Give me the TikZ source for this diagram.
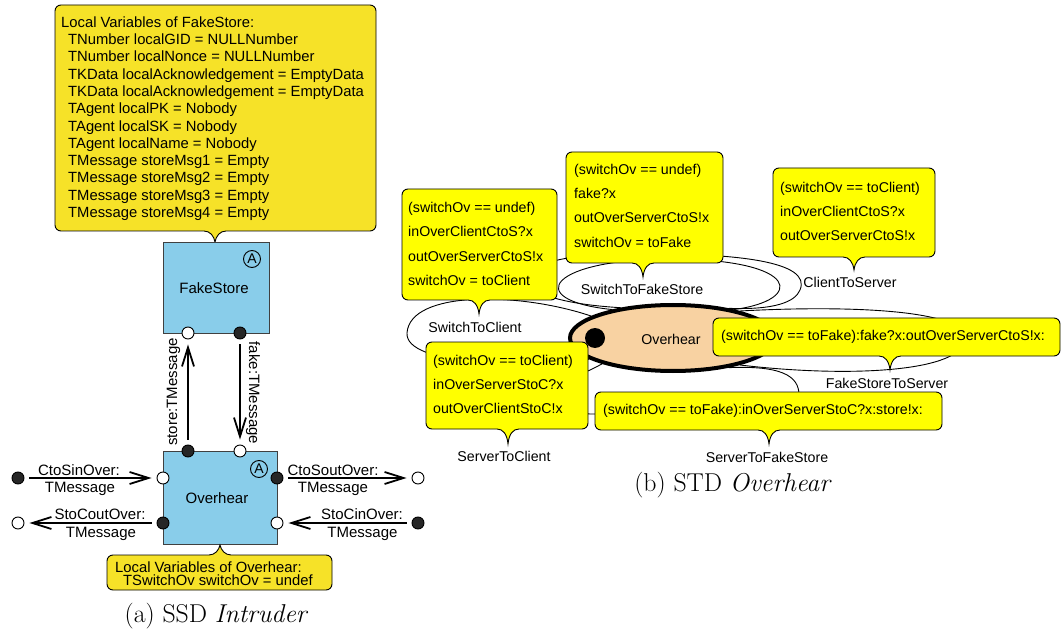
\documentclass[tikz,border=0pt]{standalone}
\usepackage{fontspec}
\newfontfamily\sans{Liberation Sans}
\usetikzlibrary{arrows.meta,shapes.geometric,backgrounds}
\definecolor{vyel}{RGB}{246,226,40}
\definecolor{syel}{RGB}{255,255,0}
\definecolor{blu}{RGB}{137,205,234}
\definecolor{peach}{RGB}{248,210,162}
% x1,y1,x2,y2,px,tipy,colour
\newcommand{\calldown}[7]{%
  \path[callframe, fill=#7] (#1,{(#2+#4)/2}) [rounded corners=6pt] -- (#1,#2) -- (#3,#2) -- (#3,#4) [sharp corners] -- ({#5+11},#4)
    .. controls ({#5+5},#4) and ({#5+1},{#4+5}) .. (#5,#6)
    .. controls ({#5-1},{#4+5}) and ({#5-5},#4) .. ({#5-11},#4) [rounded corners=6pt] -- (#1,#4) -- cycle;}
\newcommand{\callup}[7]{%
  \path[callframe, fill=#7] (#1,{(#2+#4)/2}) [rounded corners=6pt] -- (#1,#2) [sharp corners] -- ({#5-11},#2)
    .. controls ({#5-5},#2) and ({#5-1},{#2-5}) .. (#5,#6)
    .. controls ({#5+1},{#2-5}) and ({#5+5},#2) .. ({#5+11},#2) [rounded corners=6pt] -- (#3,#2) -- (#3,#4) -- (#1,#4) -- cycle;}
\begin{document}
\begin{tikzpicture}[x=1pt,y=-1pt,
  callframe/.style={draw=black, line width=0.9pt},
  vtxt/.style={font=\sans\fontsize{14.8}{17}\selectfont, inner sep=0pt, anchor=base west},
  stxt/.style={font=\sans\fontsize{14.2}{17}\selectfont, inner sep=0pt, anchor=base west},
  lbl/.style={font=\sans\fontsize{15}{17}\selectfont, inner sep=0pt, text depth=0pt},
  slbl/.style={font=\sans\fontsize{14.2}{17}\selectfont, inner sep=0pt, text depth=0pt},
  blk/.style={draw=black!75, line width=0.9pt, fill=blu, inner sep=0pt},
  wp/.style={circle, draw=black, line width=0.9pt, fill=white, minimum size=12pt, inner sep=0pt},
  bp/.style={circle, draw=black, line width=0.9pt, fill=black!85, minimum size=12pt, inner sep=0pt},
  circA/.style={circle, draw=black, line width=0.9pt, minimum size=17pt, inner sep=0pt, text depth=0pt, font=\sans\fontsize{14}{14}\selectfont},
  arr/.style={line width=1.8pt, -{Straight Barb[length=19pt,width=12pt]}, shorten <=5pt, shorten >=5pt},
  selfloop/.style={draw=black, line width=0.9pt},
  stnode/.style={draw=black, ellipse, line width=4pt, fill=peach, minimum width=206pt, minimum height=66pt, inner sep=0pt},
  captxt/.style={font=\fontsize{25.8}{30}\selectfont, inner sep=0pt, anchor=base}]
\useasboundingbox (0,0) rectangle (1061,631);

% ---------------- (a) SSD Intruder ----------------
\calldown{55}{5}{376}{231}{215}{242}{vyel}
\node[vtxt] (fv0) at (61,27.3) {Local Variables of FakeStore:};
\foreach \t [count=\i] in {{TNumber localGID = NULLNumber},{TNumber localNonce = NULLNumber},{TKData localAcknowledgement = EmptyData},{TKData localAcknowledgement = EmptyData},{TAgent localPK = Nobody},{TAgent localSK = Nobody},{TAgent localName = Nobody},{TMessage storeMsg1 = Empty},{TMessage storeMsg2 = Empty},{TMessage storeMsg3 = Empty},{TMessage storeMsg4 = Empty}}
  \node[vtxt] (fv\i) at (68,{27.3+17.3*\i}) {\t};

\node[blk, minimum width=106pt, minimum height=91pt] (fs) at (216,287.5) {};
\node[lbl] (fst) at (214,288) {FakeStore};
\node[circA] (fsA) at (252,259) {A};

\node[blk, minimum width=114pt, minimum height=93pt] (ov) at (220,497.5) {};
\node[lbl] (ovt) at (217,498) {Overhear};
\node[circA] (ovA) at (259,469) {A};

\node[wp] (fsS) at (188,333) {};
\node[bp] (fsF) at (240,333) {};
\node[bp] (ovS) at (188,451) {};
\node[wp] (ovF) at (240,451) {};
\node[wp] (ovL1) at (163,478) {};
\node[bp] (ovL2) at (163,523) {};
\node[bp] (ovR1) at (277,478) {};
\node[wp] (ovR2) at (277,523) {};
\node[bp] (eL1) at (18,478) {};
\node[wp] (eL2) at (18,523) {};
\node[wp] (eR1) at (418,478) {};
\node[bp] (eR2) at (418,523) {};

\draw[arr] (ovS) -- (fsS);
\draw[arr] (fsF) -- (ovF);
\draw[arr] (eL1) -- (ovL1);
\draw[arr] (ovL2) -- (eL2);
\draw[arr] (ovR1) -- (eR1);
\draw[arr] (eR2) -- (ovR2);

\node[lbl, rotate=90] (lst) at (172,392) {store:TMessage};
\node[lbl, rotate=-90] (lfk) at (254.5,393) {fake:TMessage};
\node[lbl] (la1) at (79,470) {CtoSinOver:};
\node[lbl] (la2) at (80,487) {TMessage};
\node[lbl] (lb1) at (100,514) {StoCoutOver:};
\node[lbl] (lb2) at (101,532) {TMessage};
\node[lbl] (lc1) at (333,470) {CtoSoutOver:};
\node[lbl] (lc2) at (333,487) {TMessage};
\node[lbl] (ld1) at (362,514) {StoCinOver:};
\node[lbl] (ld2) at (362.5,532) {TMessage};

\callup{107}{555}{332}{590}{220}{545}{vyel}
\node[vtxt] (ovv1) at (115,572) {Local Variables of Overhear:};
\node[vtxt] (ovv2) at (123,585) {TSwitchOv switchOv = undef};

\node[captxt] (capa) at (216.5,622) {(a) SSD \textit{Intruder}};

% ---------------- (b) STD Overhear ----------------
\node[stnode] (st) at (673,338) {};
\node[slbl] (stt) at (671,339) {Overhear};
\node[circle, fill=black, minimum size=20pt, inner sep=0pt] (init) at (595,338) {};

\begin{scope}[on background layer]
\draw[selfloop] (st.165) .. controls (520,292) and (410,290) .. (407,333) .. controls (405,365) and (520,368) .. (st.192);
\draw[selfloop] (st.155) .. controls (520,300) and (550,258) .. (675,259) .. controls (800,260) and (805,300) .. (st.25);
\draw[selfloop] (st.150) .. controls (490,300) and (500,255) .. (620,254) .. controls (740,252) and (812,262) .. (800,290) .. controls (795,302) and (775,310) .. (st.28);
\draw[selfloop] (st.22) .. controls (850,305) and (965,310) .. (965,338) .. controls (965,372) and (850,378) .. (st.-22);
\draw[selfloop] (st.-28) .. controls (790,365) and (800,380) .. (799,398) .. controls (798,418) and (700,415) .. (590,414) .. controls (560,414) and (560,372) .. (st.-166);
\draw[selfloop] (st.-170) .. controls (540,370) and (445,380) .. (445,400) .. controls (445,425) and (565,385) .. (st.-160);
\end{scope}

\calldown{402}{189}{557}{300}{479}{314}{syel}
\calldown{566}{152}{723}{263}{643}{277}{syel}
\calldown{773}{168}{935}{257}{854}{270}{syel}
\calldown{713}{318}{1060}{356}{890}{370}{syel}
\calldown{426}{342}{588}{429}{508}{444}{syel}
\calldown{595}{392}{942}{430}{769}{444}{syel}

\node[stxt] (c1a) at (408,212.7) {(switchOv == undef)};
\node[stxt] (c1b) at (408,237) {inOverClientCtoS?x};
\node[stxt] (c1c) at (408,261.3) {outOverServerCtoS!x};
\node[stxt] (c1d) at (408,285.7) {switchOv = toClient};

\node[stxt] (c2a) at (574,174.3) {(switchOv == undef)};
\node[stxt] (c2b) at (574,198.7) {fake?x};
\node[stxt] (c2c) at (574,223) {outOverServerCtoS!x};
\node[stxt] (c2d) at (574,247.4) {switchOv = toFake};

\node[stxt] (c3a) at (780,192.3) {(switchOv == toClient)};
\node[stxt] (c3b) at (780,216.6) {inOverClientCtoS?x};
\node[stxt] (c3c) at (780,241) {outOverServerCtoS!x};

\node[stxt] (c4a) at (721,341) {(switchOv == toFake):fake?x:outOverServerCtoS!x:};

\node[stxt] (c5a) at (433,365) {(switchOv == toClient)};
\node[stxt] (c5b) at (433,389.3) {inOverServerStoC?x};
\node[stxt] (c5c) at (433,413.6) {outOverClientStoC!x};

\node[stxt] (c6a) at (603,414) {(switchOv == toFake):inOverServerStoC?x:store!x:};

\node[slbl] (n1) at (475,327) {SwitchToClient};
\node[slbl] (n2) at (642,289) {SwitchToFakeStore};
\node[slbl] (n3) at (850,282) {ClientToServer};
\node[slbl] (n4) at (887,383) {FakeStoreToServer};
\node[slbl] (n5) at (504,456) {ServerToClient};
\node[slbl] (n6) at (767,457) {ServerToFakeStore};

\node[captxt] (capb) at (733,491) {(b) STD \textit{Overhear}};
\end{tikzpicture}
\end{document}
